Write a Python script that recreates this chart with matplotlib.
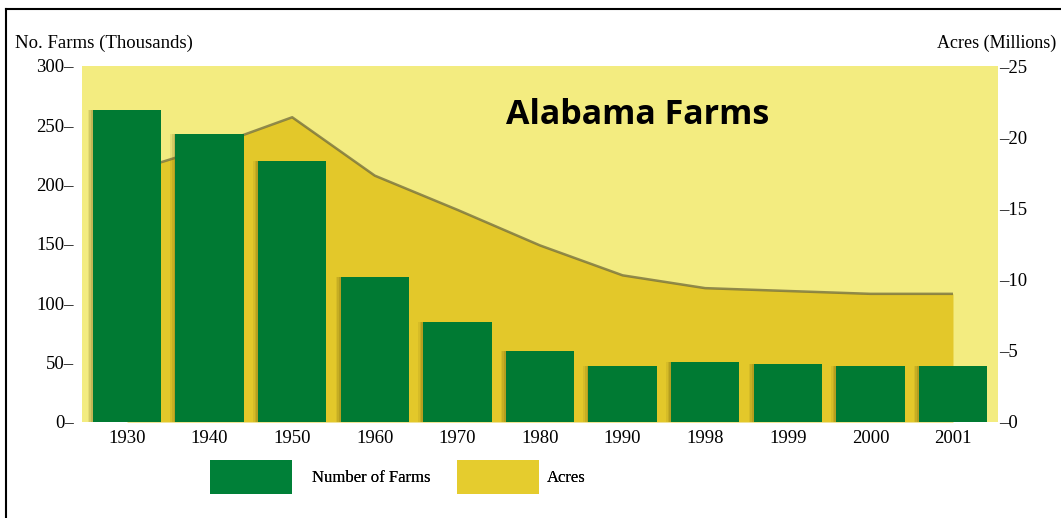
import matplotlib
matplotlib.use("Agg")
import matplotlib.pyplot as plt
from matplotlib.patches import Patch
from matplotlib.lines import Line2D
import numpy as np

years = ["1930", "1940", "1950", "1960", "1970", "1980", "1990", "1998", "1999", "2000", "2001"]
farms_thousands = [263, 243, 220, 122, 84, 60, 47, 50.5, 49, 47, 47]
acres_millions = [17.5, 19.3, 21.4, 17.3, 14.9, 12.4, 10.3, 9.4, 9.2, 9.0, 9.0]
left_ticks = [0, 50, 100, 150, 200, 250, 300]
right_ticks = [0, 5, 10, 15, 20, 25]

GREEN = "#007A33"
LIGHT_YELLOW = "#F3EC80"
ACRE_YELLOW = "#E3C82A"
SHADOW = "#6a5a10"

serif = ["Liberation Serif", "DejaVu Serif"]
fs = 13.5
lfs = 12.0
lpx = lfs * 100 / 72

fig = plt.figure(figsize=(10.61, 5.18), dpi=100)
fig.patch.set_facecolor("white")

ax2 = fig.add_axes([82/1061, 1-422/518, 916/1061, 356/518])
ax = ax2.twinx()
ax.set_position(ax2.get_position())
ax.set_zorder(ax2.get_zorder() + 1)
ax.patch.set_visible(False)
ax2.set_facecolor(LIGHT_YELLOW)

x = np.arange(len(years))

# Acres area (right axis)
ax2.fill_between(x, 0, acres_millions, color=ACRE_YELLOW, lw=0, zorder=2)
ax2.plot(x, acres_millions, color="#6f6a3a", lw=1.8, alpha=0.75, zorder=3, solid_capstyle="butt")
ax2.set_ylim(0, 25)
ax2.set_xlim(-0.545, len(years) - 1 + 0.545)

# Farms bars (left axis) with soft shadow
for off, al in [(-0.06, 0.10), (-0.04, 0.14), (-0.02, 0.18)]:
    ax.bar(x + off, farms_thousands, width=0.83, color=SHADOW, alpha=al, lw=0, zorder=1)
ax.bar(x, farms_thousands, width=0.83, color=GREEN, lw=0, zorder=2)
ax.set_ylim(0, 300)
ax.set_xlim(-0.545, len(years) - 1 + 0.545)

ax.yaxis.tick_left()
ax2.yaxis.tick_right()

ax.set_yticks(left_ticks)
ax.set_yticklabels([f"{t}\u2013" for t in left_ticks], family=serif, fontsize=fs)
ax2.set_yticks(right_ticks)
ax2.set_yticklabels([f"\u2013{t}" for t in right_ticks], family=serif, fontsize=fs)
ax.tick_params(axis="y", length=0, pad=6)
ax2.tick_params(axis="y", length=0, pad=1)

ax2.set_xticks(x)
ax2.set_xticklabels(years, family=serif, fontsize=fs)
ax2.tick_params(axis="x", length=0, pad=6)
ax.tick_params(axis="x", length=0, labelbottom=False)

for a in (ax, ax2):
    for s in a.spines.values():
        s.set_visible(False)

# Title inside the plot
ax.text(0.607, 0.862, "Alabama Farms", transform=ax.transAxes, ha="center", va="center",
        fontsize=24.5, fontweight="bold", family=["Open Sans", "DejaVu Sans"], color="black", zorder=5)

# Axis titles
fig.text(15/1061, 1-43/518, "No. Farms (Thousands)", ha="left", va="center",
         family=serif, fontsize=fs)
fig.text(1056/1061, 1-43/518, "Acres (Millions)", ha="right", va="center",
         family=serif, fontsize=13)

# Legend (two entries, placed separately)
hh_target = 34 / lpx
legend_specs = [
    (Patch(facecolor="#008038", edgecolor="none", label="Number of Farms"), 210, 20),
    (Patch(facecolor="#E5CC2E", edgecolor="none", label="Acres"), 457, 8),
]
for handle, xpix, pad in legend_specs:
    lg = fig.legend(handles=[handle], loc="upper left", bbox_to_anchor=(xpix/1061, 1-460/518),
                    frameon=False, borderpad=0, borderaxespad=0,
                    handlelength=82/lpx, handleheight=(hh_target - 0.245) / 0.65,
                    handletextpad=pad/lpx, prop={"family": serif, "size": lfs})
    fig.add_artist(lg)

# Frame lines (left and top)
fig.add_artist(Line2D([5.5/1061, 5.5/1061], [0, 1-9/518], color="black", lw=1.5,
                      transform=fig.transFigure))
fig.add_artist(Line2D([5.5/1061, 1], [1-9/518, 1-9/518], color="black", lw=1.5,
                      transform=fig.transFigure))

fig.savefig("out.png", dpi=100)
